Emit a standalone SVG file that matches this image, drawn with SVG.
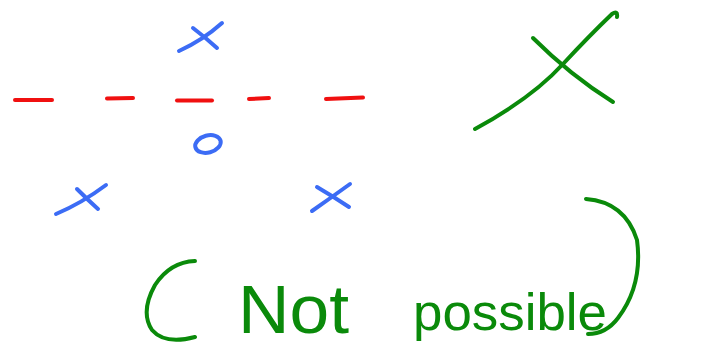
<svg xmlns="http://www.w3.org/2000/svg" width="704" height="347" viewBox="0 0 704 347">
<style>
.b{fill:none;stroke:#3c6cf5;stroke-width:4;stroke-linecap:round;stroke-linejoin:round}
.r{fill:none;stroke:#f01010;stroke-width:4;stroke-linecap:round}
.g{fill:none;stroke:#0a8a0a;stroke-width:4;stroke-linecap:round;stroke-linejoin:round}
.t{fill:#0a8a0a;font-family:"Liberation Sans",Arial,sans-serif}
</style>
<rect width="704" height="347" fill="#fff"/>
<g id="red-line">
<path class="r" d="M15 100 L52 100"/>
<path class="r" d="M107 98.5 L133 98"/>
<path class="r" d="M177 100.5 L212 100.5"/>
<path class="r" d="M249 99 L269 98"/>
<path class="r" d="M326 99 L363 97.5"/>
</g>
<g id="blue-points">
<path class="b" d="M179 51 Q203 40 222 23"/>
<path class="b" d="M193 28 Q206 38 217 48"/>
<ellipse class="b" cx="208" cy="144" rx="13" ry="8.5" transform="rotate(-15 208 144)"/>
<path class="b" d="M56 214 Q82 203 106 185"/>
<path class="b" d="M77 189 Q88 200 98 209"/>
<path class="b" d="M312 211 Q332 197 350 184"/>
<path class="b" d="M317 187 Q334 197 349 207"/>
</g>
<g id="green-cross">
<path class="g" d="M475 129 Q532 98 563 64 Q590 35 612 14 Q618 10 617 17"/>
<path class="g" d="M533 38 Q570 75 613 102"/>
</g>
<g id="label">
<path class="g" d="M195 261 Q170 262 155 285 Q140 312 152 330 Q165 345 195 337"/>
<path class="g" d="M586 199 Q625 202 637 240 Q643 285 618 318 Q606 334 588 334"/>
<text class="t" x="238" y="333" font-size="68" textLength="111" lengthAdjust="spacingAndGlyphs">Not</text>
<text class="t" x="413" y="330" font-size="52" textLength="194" lengthAdjust="spacingAndGlyphs">possible</text>
</g>
</svg>
